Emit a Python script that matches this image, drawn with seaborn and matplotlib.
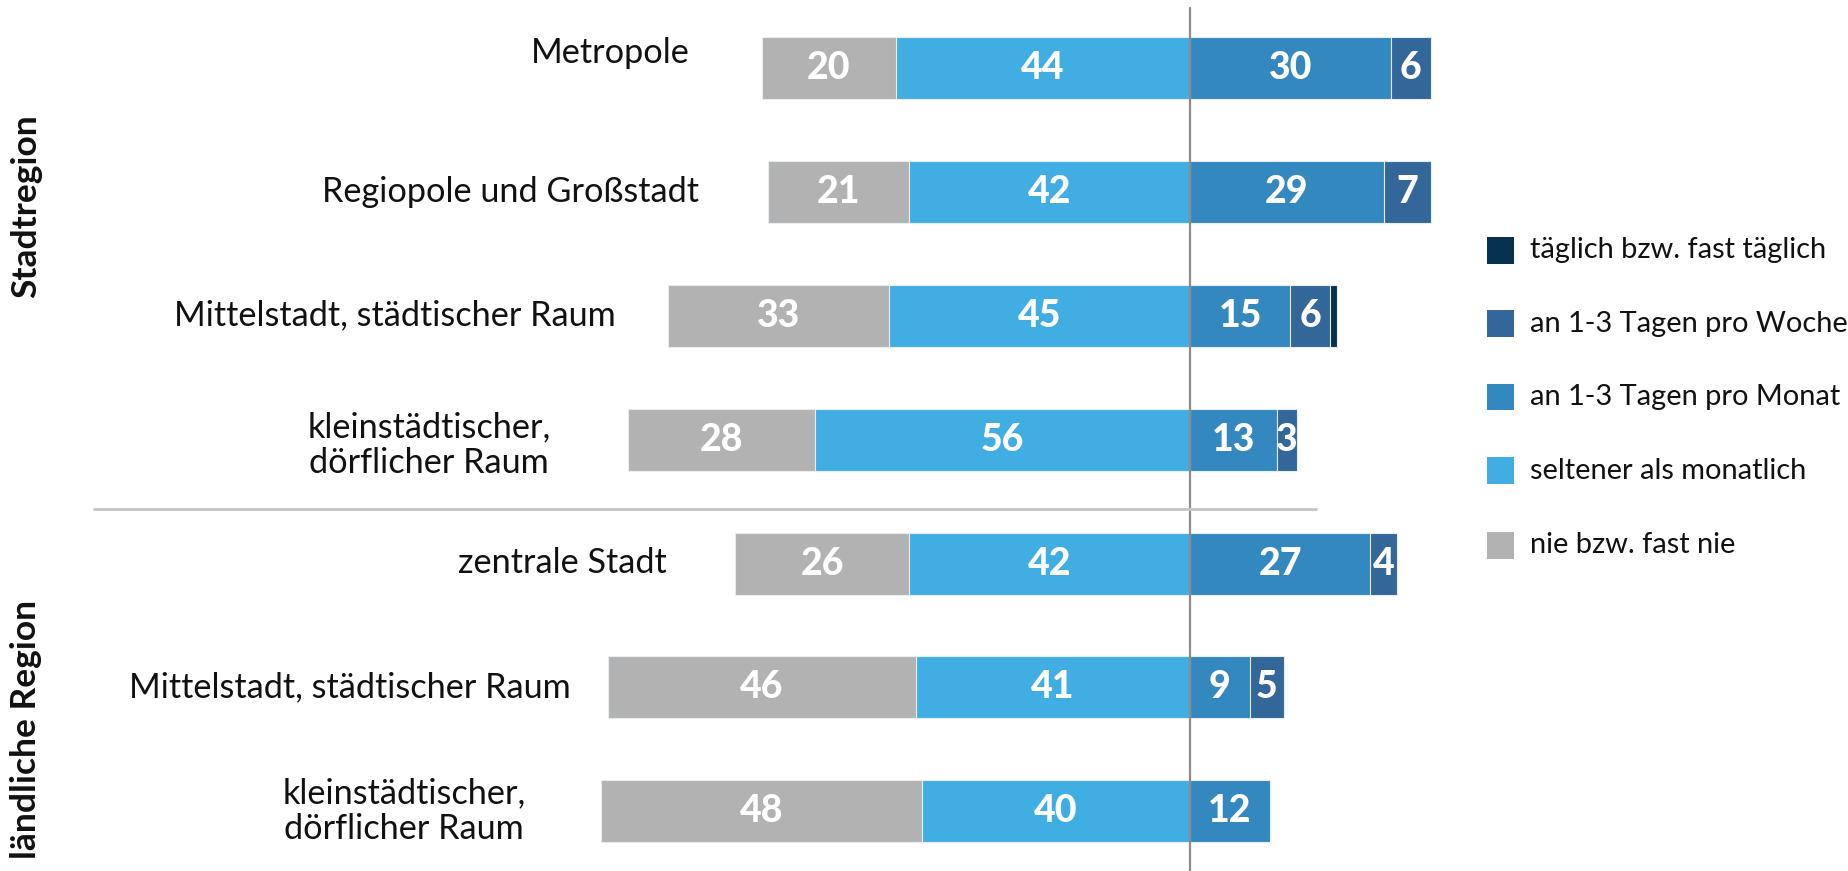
import matplotlib
matplotlib.use("Agg")
import matplotlib.pyplot as plt
import matplotlib.patches as mpatches
import pandas as pd
import seaborn as sns

# Row labels (top to bottom) and the two region groups
categories = [
    "Metropole",
    "Regiopole und Großstadt",
    "Mittelstadt, städtischer Raum",
    "kleinstädtischer,\ndörflicher Raum",
    "zentrale Stadt",
    "Mittelstadt, städtischer Raum",
    "kleinstädtischer,\ndörflicher Raum",
]
groups = ["Stadtregion", "ländliche Region"]

# Shares in percent
nie = [20, 21, 33, 28, 26, 46, 48]
seltener = [44, 42, 45, 56, 42, 41, 40]
monat = [30, 29, 15, 13, 27, 9, 12]
woche = [6, 7, 6, 3, 4, 5, 0]
taeglich = [0, 0, 1, 0, 0, 0, 0]

series_labels = [
    "täglich bzw. fast täglich",
    "an 1-3 Tagen pro Woche",
    "an 1-3 Tagen pro Monat",
    "seltener als monatlich",
    "nie bzw. fast nie",
]

C_TAEGLICH = "#06324F"
C_WOCHE = "#336699"
C_MONAT = "#3488C0"
C_SELTENER = "#41AEE3"
C_NIE = "#B2B2B2"
series_colors = [C_TAEGLICH, C_WOCHE, C_MONAT, C_SELTENER, C_NIE]

sns.set_theme(style="white")
FONT = ["Lato", "DejaVu Sans"]
plt.rcParams["font.family"] = FONT

W, H = 1848, 871
fig = plt.figure(figsize=(W / 100, H / 100), dpi=100)
ax = fig.add_axes([0, 0, 1, 1])

rows = list(range(len(categories)))
df = pd.DataFrame({
    "row": rows, "nie": nie, "seltener": seltener,
    "monat": monat, "woche": woche, "taeglich": taeglich,
})
df["left_total"] = -(df["nie"] + df["seltener"])
df["left_inner"] = -df["seltener"]
df["right_3"] = df["monat"] + df["woche"] + df["taeglich"]
df["right_2"] = df["monat"] + df["woche"]
df["right_1"] = df["monat"]

# Stacked diverging bars: wider cumulative bars first, inner segments on top
bar_kw = dict(y="row", orient="h", native_scale=True, width=0.5,
              edgecolor="#e6edf4", linewidth=0.8, ax=ax)
for col, color in [("left_total", C_NIE), ("left_inner", C_SELTENER),
                   ("right_3", C_TAEGLICH), ("right_2", C_WOCHE),
                   ("right_1", C_MONAT)]:
    sns.barplot(data=df, x=col, color=color, saturation=1, **bar_kw)

# Value labels centred in each segment
def put_labels(starts, values):
    for r, (s, v) in enumerate(zip(starts, values)):
        if v >= 3:
            ax.text(s + v / 2, r, f"{v}", ha="center", va="center",
                    color="white", fontsize=27, fontweight="black")

put_labels([-(a + b) for a, b in zip(nie, seltener)], nie)
put_labels([-b for b in seltener], seltener)
put_labels([0] * len(monat), monat)
put_labels(monat, woche)

ax.set_xlim(-177.9, 98.4)
ax.set_ylim(6.483, -0.5525)
ax.axis("off")

# Zero line and group separator
ax.plot([0, 0], [-0.485, 6.6], color="#8c8c8c", lw=1.6, zorder=5, clip_on=False)
ax.plot([-163.8, 18.8], [3.56, 3.56], color="#c4c4c4", lw=2, zorder=5)

# Category labels to the left of the bars (centre x in figure px, y in px)
label_cx = [610, 510, 395, 429, 562, 350, 404]
label_cy = [53, 192, 315, 445, 563, 687, 811]
for txt, cx, cy in zip(categories, label_cx, label_cy):
    fig.text(cx / W, 1 - cy / H, txt, ha="center", va="center",
             fontsize=24.7, color="#111111", linespacing=1.15,
             multialignment="center")

# Region group labels
for txt, cy in zip(groups, [206, 729]):
    fig.text(26 / W, 1 - cy / H, txt, rotation=90, ha="center", va="center",
             fontsize=25.5, fontweight="bold", color="#111111")

# Legend
leg_y = [250, 324, 397, 471, 545]
for lab, col, y in zip(series_labels, series_colors, leg_y):
    fig.patches.append(mpatches.Rectangle(
        (1487 / W, 1 - (y + 13.5) / H), 27 / W, 27 / H,
        transform=fig.transFigure, facecolor=col, edgecolor="none"))
    fig.text(1530 / W, 1 - y / H, lab, ha="left", va="center",
             fontsize=20.9, color="#111111")

fig.savefig("out.png", dpi=100)
